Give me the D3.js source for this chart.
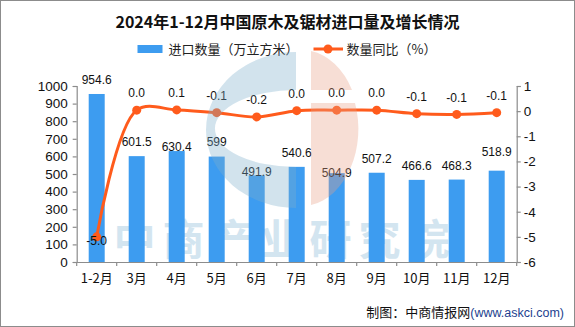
<!DOCTYPE html>
<html><head><meta charset="utf-8">
<script src="https://cdn.jsdelivr.net/npm/d3@7"></script>
<style>body{margin:0;background:#fff}svg{display:block}</style>
</head><body>
<svg id="c" width="575" height="327"></svg>
<script>
const categories = ["1-2月","3月","4月","5月","6月","7月","8月","9月","10月","11月","12月"];
const volume = [954.6,601.5,630.4,599,491.9,540.6,504.9,507.2,466.6,468.3,518.9];
const growth = [-5.0,0.04,0.05,-0.06,-0.23,0.02,0.04,0.04,-0.10,-0.13,-0.06];
const growthLabels = ["-5.0","0.0","0.1","-0.1","-0.2","0.0","0.0","0.0","-0.1","-0.1","-0.1"];
const leftTicks = [0,100,200,300,400,500,600,700,800,900,1000];
const rightTicks = [-6,-5,-4,-3,-2,-1,0,1];
const valueLabelGap = [14,14,4,15,4,14,0,14,14,14,19];

const BAR = "#3d9cf0", LINE = "#ff5b1c", AX = "#8c8c8c";
const CJK = "'Noto Sans CJK SC', sans-serif";
const NUM = "'Liberation Sans', Arial, sans-serif";
const svg = d3.select("#c");
const L = 76.7, R = 516.7, T = 86, B = 262;

svg.append("rect").attr("x",0.5).attr("y",0.5).attr("width",574).attr("height",326)
  .attr("fill","#fff").attr("stroke",AX).attr("stroke-width",1);

// title
svg.append("text").attr("x",287.5).attr("y",28).attr("text-anchor","middle")
  .attr("font-family",CJK).attr("font-weight","bold").attr("font-size",16).attr("fill","#111")
  .text("2024年1-12月中国原木及锯材进口量及增长情况");

// legend
svg.append("rect").attr("x",137.5).attr("y",45).attr("width",25).attr("height",8).attr("fill",BAR);
svg.append("text").attr("x",168.5).attr("y",53.5).attr("font-family",CJK).attr("font-size",13).attr("fill","#222")
  .text("进口数量（万立方米）");
svg.append("line").attr("x1",313.5).attr("x2",343).attr("y1",49).attr("y2",49).attr("stroke",LINE).attr("stroke-width",3);
svg.append("circle").attr("cx",328).attr("cy",49).attr("r",4.5).attr("fill",LINE);
svg.append("text").attr("x",346.5).attr("y",53.5).attr("font-family",CJK).attr("font-size",13).attr("fill","#222")
  .text("数量同比（%）");

// scales
const x = d3.scaleBand().domain(categories).range([L,R]).paddingInner(0.6).paddingOuter(0.3);
const yL = d3.scaleLinear().domain([0,1000]).range([B,T]);
const yR = d3.scaleLinear().domain([-6,1]).range([B,T]);
const cx = d => x(d) + x.bandwidth()/2;

// watermark text (behind)
svg.append("text").attr("x",285).attr("y",255).attr("text-anchor","middle")
  .attr("font-family",CJK).attr("font-weight","bold").attr("font-size",42)
  .attr("letter-spacing",7).attr("fill","#d3e5f0").text("中商产业研究院");

// bars
svg.append("g").selectAll("rect").data(volume).join("rect")
  .attr("x",(d,i)=>x(categories[i])).attr("width",x.bandwidth())
  .attr("y",d=>yL(d)).attr("height",d=>B-yL(d)).attr("fill",BAR);

// axes
const gl = svg.append("g").attr("transform",`translate(${L},0)`)
  .call(d3.axisLeft(yL).tickValues(leftTicks).tickSize(4).tickPadding(5).tickFormat(d3.format("d")));
const gr = svg.append("g").attr("transform",`translate(${R},0)`)
  .call(d3.axisRight(yR).tickValues(rightTicks).tickSize(4).tickPadding(3).tickFormat(d=>d<0?"-"+Math.abs(d):d));
const gx = svg.append("g").attr("transform",`translate(0,${B})`)
  .call(d3.axisBottom(x).tickSize(0).tickPadding(20));
[gl,gr,gx].forEach(g=>{
  g.selectAll("path.domain").attr("stroke",AX).attr("stroke-width",1.2);
  g.selectAll(".tick line").attr("stroke",AX).attr("stroke-width",1.2);
  g.selectAll("text").attr("fill","#111");
});
gl.selectAll("text").attr("font-family",NUM).attr("font-size",13.5);
gr.selectAll("text").attr("font-family",NUM).attr("font-size",13.5);
gx.selectAll("text").attr("font-family",CJK).attr("font-size",13).attr("dy",0).attr("y",20.5);
gx.select("path.domain").attr("d",`M${L},0.5H${R}`);
// category boundary ticks
gx.append("g").selectAll("line").data(d3.range(categories.length+1)).join("line")
  .attr("x1",i=>L+i*x.step()).attr("x2",i=>L+i*x.step()).attr("y1",0).attr("y2",4)
  .attr("stroke",AX).attr("stroke-width",1.2);

// line
const pts = growth.map((g,i)=>[cx(categories[i]), yR(g)]);
svg.append("path").attr("d",d3.line().curve(d3.curveCatmullRom.alpha(0.5))(pts))
  .attr("fill","none").attr("stroke",LINE).attr("stroke-width",3);
svg.append("g").selectAll("circle").data(pts).join("circle")
  .attr("cx",d=>d[0]).attr("cy",d=>d[1]).attr("r",4.5).attr("fill",LINE);

// value labels
svg.append("g").selectAll("text").data(volume).join("text")
  .attr("x",(d,i)=>cx(categories[i])).attr("y",(d,i)=>yL(d)-valueLabelGap[i]+4.3)
  .attr("text-anchor","middle").attr("font-family",NUM).attr("font-size",12).attr("fill","#111")
  .text(d=>d);
svg.append("g").selectAll("text").data(growthLabels).join("text")
  .attr("x",(d,i)=>pts[i][0]).attr("y",(d,i)=> i===0 ? pts[i][1]+8.3 : pts[i][1]-12.7)
  .attr("text-anchor","middle").attr("font-family",NUM).attr("font-size",12).attr("fill","#111")
  .text(d=>d);

// logo watermark (front, translucent)
const logo = svg.append("g").attr("pointer-events","none");
logo.append("path").attr("fill","#7fb0cc").attr("opacity",0.35).attr("fill-rule","evenodd")
  .attr("d","M296,52 A90,78 0 0 0 296,208 Z M296,90 A80,38 0 0 0 296,167 Z");
logo.append("path").attr("fill","#e8a088").attr("opacity",0.35)
  .attr("d","M311,51 A57,77 0 0 1 352,90 L311,90 Z M311,103 L355,103 A57,77 0 0 1 311,205 Z");

// footer
const ft = svg.append("text").attr("x",564).attr("y",316.5).attr("text-anchor","end")
  .attr("font-family",CJK).attr("font-size",13);
ft.append("tspan").attr("fill","#111").text("制图：中商情报网");
ft.append("tspan").attr("fill","#1d3f8f").attr("font-family",NUM).attr("font-size",12.5).text("(www.askci.com)");
</script>
</body></html>
